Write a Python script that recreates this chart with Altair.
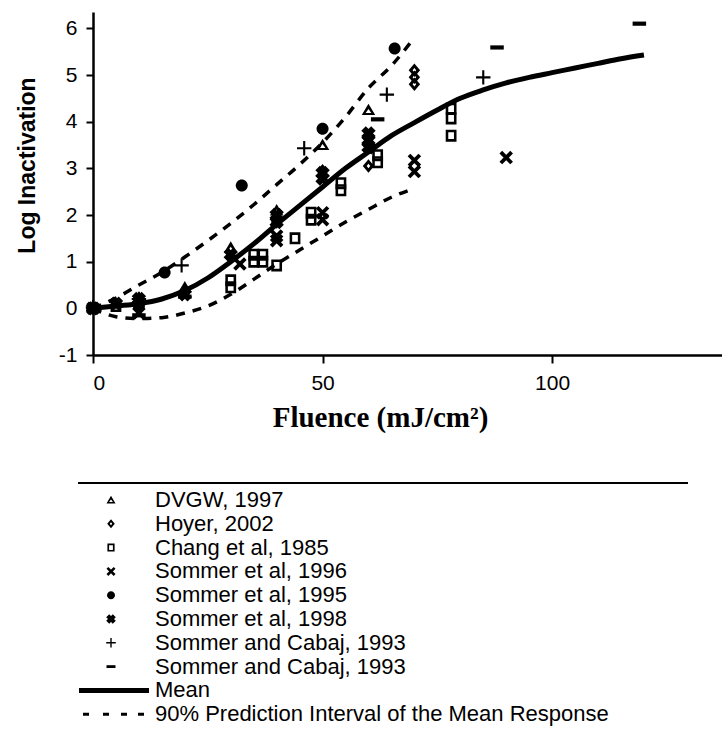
import altair as alt
import pandas as pd

# ---------------- data ----------------
labels = [
    "DVGW, 1997",
    "Hoyer, 2002",
    "Chang et al, 1985",
    "Sommer et al, 1996",
    "Sommer et al, 1995",
    "Sommer et al, 1998",
    "Sommer and Cabaj, 1993",
    "Sommer and Cabaj, 1993 ",
    "Mean",
    "90% Prediction Interval of the Mean Response",
]

dvgw_x = [0, 20, 30, 40, 50, 60]
dvgw_y = [0.05, 0.45, 1.3, 2.1, 3.5, 4.25]

hoyer_x = [0, 10, 20, 30, 40, 50, 60, 70, 70, 70]
hoyer_y = [0.0, 0.12, 0.35, 1.1, 1.85, 2.95, 3.05, 5.1, 4.95, 4.8]

chang_x = [5, 30, 30, 35, 37, 35, 37, 40, 44, 47.5, 47.5, 54, 54, 62, 62, 78, 78, 78]
chang_y = [0.05, 0.6, 0.45, 1.15, 1.15, 1.0, 1.0, 0.92, 1.5, 2.05, 1.9, 2.68, 2.53,
           3.28, 3.13, 4.28, 4.07, 3.7]

s96_x = [0, 10, 32, 40, 40, 50, 50, 70, 70, 90]
s96_y = [0.0, -0.1, 0.95, 1.45, 1.55, 2.05, 1.9, 3.17, 2.93, 3.23]

s95_x = [0, 10, 15.6, 32.4, 50, 65.7]
s95_y = [0.0, 0.05, 0.77, 2.63, 3.85, 5.57]

s98_x = [0, 5, 10, 20, 30, 40, 40, 50, 50, 60, 60, 60]
s98_y = [0.0, 0.1, 0.2, 0.3, 1.15, 2.0, 1.85, 2.9, 2.78, 3.75, 3.6, 3.45]

scp_x = [0, 10, 19.3, 46, 64, 85]
scp_y = [0.02, 0.2, 0.92, 3.43, 4.58, 4.95]

scm_x = [0, 10, 20, 62, 88, 119]
scm_y = [-0.02, -0.15, 0.25, 4.05, 5.59, 6.1]

mean_x = [0, 5, 10, 15, 20, 25, 30, 35, 40, 45, 50, 55, 60, 65, 70, 75, 80, 85,
          90, 95, 100, 105, 110, 115, 120]
mean_y = [0.0, 0.05, 0.1, 0.2, 0.38, 0.65, 1.0, 1.38, 1.8, 2.2, 2.6, 3.0, 3.35,
          3.7, 3.98, 4.25, 4.5, 4.68, 4.83, 4.95, 5.05, 5.15, 5.25, 5.35, 5.43]

upper_x = [0, 5, 10, 15, 20, 25, 30, 35, 40, 45, 50, 55, 60, 65, 70]
upper_y = [0.0, 0.22, 0.5, 0.77, 1.1, 1.45, 1.82, 2.22, 2.65, 3.08, 3.55, 4.1,
           4.72, 5.2, 5.8]

lower_x = [0, 5, 10, 15, 20, 25, 30, 35, 40, 45, 50, 55, 60, 65, 70]
lower_y = [0.0, -0.18, -0.22, -0.2, -0.1, 0.05, 0.3, 0.62, 0.95, 1.25, 1.55,
           1.85, 2.12, 2.38, 2.57]

y_ticks = [-1, 0, 1, 2, 3, 4, 5, 6]
x_ticks = [0, 50, 100]

# ---------------- symbol paths (filled outlines, holes wound the other way) ----------------
TRI = "M0,-0.42L0.45,0.34L-0.45,0.34ZM0,-0.06L-0.19,0.2L0.19,0.2Z"
DIA = "M0,-0.45L0.38,0L0,0.45L-0.38,0ZM0,-0.15L-0.12,0L0,0.15L0.12,0Z"
SQR = "M-0.36,-0.4H0.36V0.4H-0.36ZM-0.19,-0.23V0.23H0.19V-0.23Z"
XTHIN = ("M-0.27,-0.45L0.45,0.27L0.27,0.45L-0.45,-0.27Z"
         "M-0.45,0.27L0.27,-0.45L0.45,-0.27L-0.27,0.45Z")
XBOLD = ("M-0.18,-0.48L0.48,0.18L0.18,0.48L-0.48,-0.18Z"
         "M-0.48,0.18L0.18,-0.48L0.48,-0.18L-0.18,0.48Z")
CIRC = "M-0.4,0A0.4,0.4,0,1,0,0.4,0A0.4,0.4,0,1,0,-0.4,0Z"
PLUS = "M-0.48,-0.07H0.48V0.07H-0.48ZM-0.07,-0.48H0.07V0.48H-0.07Z"
MINUS = "M-0.45,-0.14H0.45V0.14H-0.45Z"
MEAN = "M-3.2,-0.25H3.8V0.25H-3.2Z"
DASH = ("M-2.8,-0.15H-2.2V0.15H-2.8ZM-0.8,-0.15H-0.2V0.15H-0.8Z"
        "M1.0,-0.15H1.6V0.15H1.0ZM2.7,-0.15H3.3V0.15H2.7Z")
shapes = [TRI, DIA, SQR, XTHIN, CIRC, XBOLD, PLUS, MINUS, MEAN, DASH]

# ---------------- tables ----------------
series_xy = [
    (labels[0], dvgw_x, dvgw_y),
    (labels[1], hoyer_x, hoyer_y),
    (labels[2], chang_x, chang_y),
    (labels[3], s96_x, s96_y),
    (labels[4], s95_x, s95_y),
    (labels[5], s98_x, s98_y),
    (labels[6], scp_x, scp_y),
    (labels[7], scm_x, scm_y),
]
rows = []
for name, xs_, ys_ in series_xy:
    for xv, yv in zip(xs_, ys_):
        rows.append({"series": name, "fluence": xv, "logi": yv})
pts = pd.DataFrame(rows)

mean_df = pd.DataFrame({"fluence": mean_x, "logi": mean_y})
band_df = pd.concat([
    pd.DataFrame({"fluence": upper_x, "logi": upper_y, "bound": "upper"}),
    pd.DataFrame({"fluence": lower_x, "logi": lower_y, "bound": "lower"}),
])

W, H = 629, 343
xs = alt.Scale(domain=[0, 137], nice=False, zero=False)
ys = alt.Scale(domain=[-1, 6.35], nice=False, zero=False)

x_axis = alt.Axis(
    values=x_ticks, title="Fluence (mJ/cm²)", grid=False,
    titleFont="Liberation Serif", titleFontSize=29, titleFontWeight="bold",
    titleColor="black", titleX=287, titleY=62, titleBaseline="middle",
    labelFont="Liberation Sans", labelFontSize=21, labelColor="black",
    labelPadding=9, tickSize=8, tickWidth=2, tickColor="black",
    domainColor="black", domainWidth=2.5, labelExpr="'' + datum.value",
)
y_axis = alt.Axis(
    values=y_ticks, title="Log Inactivation", grid=False,
    titleFont="Liberation Sans", titleFontSize=23, titleFontWeight="bold",
    titleColor="black", titleX=-66, titleY=153, titleBaseline="middle",
    labelFont="Liberation Sans", labelFontSize=21, labelColor="black",
    labelPadding=9, tickSize=7, tickWidth=2, tickColor="black",
    domainColor="black", domainWidth=2.5, labelExpr="'' + datum.value",
)

legend = alt.Legend(
    title=None, orient="none", legendX=7, legendY=477, padding=0,
    symbolSize=400, symbolFillColor="black", symbolStrokeWidth=0,
    labelFont="Liberation Sans", labelFontSize=22, labelColor="black",
    labelOffset=33, rowPadding=1.8, labelLimit=600,
)

points = alt.Chart(pts).mark_point(filled=True, color="black", size=900, opacity=1).encode(
    x=alt.X("fluence:Q", scale=xs, axis=x_axis),
    y=alt.Y("logi:Q", scale=ys, axis=y_axis),
    shape=alt.Shape("series:N", scale=alt.Scale(domain=labels, range=shapes), legend=legend),
)

mean_line = alt.Chart(mean_df).mark_line(
    color="black", strokeWidth=5, interpolate="monotone"
).encode(x=alt.X("fluence:Q", scale=xs), y=alt.Y("logi:Q", scale=ys))

band_lines = alt.Chart(band_df).mark_line(
    color="black", strokeWidth=3.5, strokeDash=[9, 8], interpolate="monotone"
).encode(
    x=alt.X("fluence:Q", scale=xs), y=alt.Y("logi:Q", scale=ys),
    detail="bound:N",
)

sep = alt.Chart(pd.DataFrame({"k": [0]})).mark_rule(color="black", strokeWidth=2).encode(
    x=alt.value(-15), x2=alt.value(595), y=alt.value(471)
)

chart = alt.layer(band_lines, mean_line, points, sep).properties(
    width=W, height=H,
    autosize=alt.AutoSizeParams(type="none"),
    padding={"left": 93, "top": 12, "right": 0, "bottom": 376},
    background="white",
).configure_view(stroke=None)

chart.save("out.html", embed_options={"renderer": "svg", "actions": False})
